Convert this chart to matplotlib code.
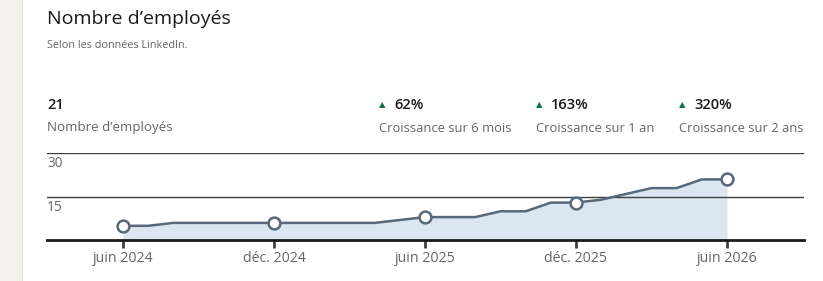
import matplotlib.pyplot as plt
from matplotlib.patches import Rectangle
import numpy as np

plt.rcParams['font.family'] = ['Open Sans', 'DejaVu Sans']

# monthly headcount, juin 2024 -> juin 2026
employees = [5, 5, 6, 6, 6, 6, 6, 6, 6, 6, 6, 7, 8, 8, 8, 10, 10, 13, 13, 14, 16, 18, 18, 21, 21]
tick_pos = [0, 6, 12, 18, 24]
tick_labels = ["juin 2024", "déc. 2024", "juin 2025", "déc. 2025", "juin 2026"]
y_grid = [15, 30]

current = "21"
growth_values = ["62%", "163%", "320%"]
growth_labels = ["Croissance sur 6 mois", "Croissance sur 1 an", "Croissance sur 2 ans"]

W, H = 823, 281
fig = plt.figure(figsize=(W / 100, H / 100), dpi=100)
fig.patch.set_facecolor("white")

# left grey strip of the page
fig.patches.append(Rectangle((0, 0), 22 / W, 1, transform=fig.transFigure,
                             facecolor="#f4f2ee", edgecolor="none"))
fig.patches.append(Rectangle((22 / W, 0), 1.2 / W, 1, transform=fig.transFigure,
                             facecolor="#e0dfdc", edgecolor="none"))

def fx(px):
    return px / W

def fy(py):
    return 1 - py / H

fig.text(fx(47), fy(19), "Nombre d’employés", fontsize=14, color="#191919",
         va="center", ha="left")
fig.text(fx(47), fy(45), "Selon les données LinkedIn.", fontsize=7.8, color="#666666",
         va="center", ha="left")

fig.text(fx(47), fy(105), current, fontsize=10.5, color="#191919", fontweight="semibold",
         va="center", ha="left")
fig.text(fx(47), fy(128), "Nombre d’employés", fontsize=9.6, color="#666666",
         va="center", ha="left")

for xpx, val, lab in zip([379, 536, 679], growth_values, growth_labels):
    fig.text(fx(xpx), fy(105), "▲", fontsize=6, color="#057642", va="center", ha="left",
             family="DejaVu Sans")
    fig.text(fx(xpx + 15), fy(105), val, fontsize=10.5, color="#191919", fontweight="semibold",
             va="center", ha="left")
    fig.text(fx(xpx), fy(128), lab, fontsize=9.4, color="#666666", va="center", ha="left")

# chart area
x0, x1 = 47, 804
ybase, ytop = 240.3, 153.3
ax = fig.add_axes([fx(x0), fy(ybase), (x1 - x0) / W, (ybase - ytop) / H])
px_per_month = (727 - 123) / 24
xmin = -(123 - x0) / px_per_month
xmax = 24 + (x1 - 727) / px_per_month
ax.set_xlim(xmin, xmax)
ax.set_ylim(0, 30)
ax.set_facecolor("none")

x = np.arange(len(employees))
ax.fill_between(x, employees, 0, color="#dce6f1", linewidth=0, zorder=1)
for g in y_grid:
    ax.axhline(g, color="#404040", linewidth=1, zorder=2)
ax.plot(x, employees, color="#56687a", linewidth=1.8, zorder=3, solid_joinstyle="round")
ax.plot(tick_pos, [employees[i] for i in tick_pos], "o", markersize=8.5,
        markerfacecolor="white", markeredgecolor="#56687a", markeredgewidth=1.8, zorder=4)

for s in ["top", "right", "left"]:
    ax.spines[s].set_visible(False)
ax.spines["bottom"].set_color("#191919")
ax.spines["bottom"].set_linewidth(2)
ax.spines["bottom"].set_zorder(5)

ax.set_xticks(tick_pos)
ax.set_xticklabels(tick_labels, fontsize=10.2, color="#666666")
ax.tick_params(axis="x", length=6, width=2, color="#404040", pad=2)
ax.set_yticks([])

for g in y_grid:
    ax.text(xmin, g - 1.0, str(g), fontsize=9.8, color="#666666", va="top", ha="left")

fig.savefig("out.png", dpi=100)
